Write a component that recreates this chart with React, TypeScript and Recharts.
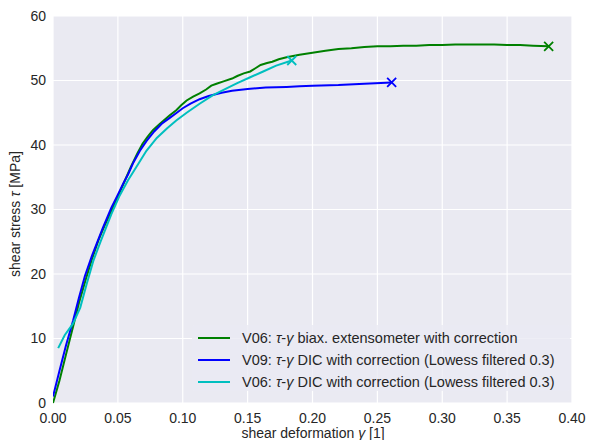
import React from 'react'
import { LineChart, Line, XAxis, YAxis, CartesianGrid } from 'recharts'

// gamma [1], tau [MPa]
const v06BiaxGamma = [0, 0.005, 0.01, 0.0154, 0.02, 0.025, 0.03, 0.035, 0.04, 0.045, 0.05, 0.055, 0.06, 0.065, 0.069, 0.073, 0.077, 0.082, 0.086, 0.09, 0.095, 0.099, 0.103, 0.108, 0.113, 0.118, 0.122, 0.126, 0.132, 0.138, 0.142, 0.147, 0.152, 0.156, 0.16, 0.165, 0.169, 0.174, 0.18, 0.185, 0.19, 0.2, 0.21, 0.22, 0.23, 0.24, 0.25, 0.26, 0.27, 0.28, 0.29, 0.3, 0.31, 0.32, 0.33, 0.34, 0.35, 0.36, 0.37, 0.382]
const v06BiaxTau = [0, 3.5, 7.5, 11.8, 15.5, 19, 22.3, 25.2, 27.6, 29.8, 32, 34.3, 36.6, 38.7, 40.2, 41.3, 42.3, 43.2, 43.9, 44.6, 45.4, 46.2, 46.9, 47.5, 48.0, 48.6, 49.2, 49.5, 49.9, 50.3, 50.7, 51.1, 51.4, 51.9, 52.4, 52.7, 52.9, 53.3, 53.6, 53.8, 54.0, 54.3, 54.6, 54.9, 55.0, 55.2, 55.3, 55.3, 55.4, 55.4, 55.5, 55.5, 55.6, 55.6, 55.6, 55.6, 55.5, 55.5, 55.4, 55.3]

const v09DicGamma = [0, 0.005, 0.01, 0.0154, 0.02, 0.0246, 0.03, 0.0385, 0.045, 0.05, 0.0538, 0.058, 0.062, 0.067, 0.072, 0.078, 0.0838, 0.09, 0.0954, 0.1, 0.106, 0.113, 0.12, 0.13, 0.138, 0.15, 0.164, 0.18, 0.19, 0.2, 0.22, 0.24, 0.261]
const v09DicTau = [1, 5, 8.9, 12.7, 16.3, 19.7, 22.8, 27.2, 30.3, 32.3, 33.9, 35.5, 37.3, 39.1, 40.6, 42.1, 43.3, 44.2, 45.0, 45.7, 46.4, 47.1, 47.6, 48.1, 48.4, 48.7, 48.9, 49.0, 49.1, 49.2, 49.3, 49.5, 49.7]

const v06DicGamma = [0.004, 0.009, 0.0154, 0.021, 0.026, 0.031, 0.037, 0.045, 0.051, 0.0577, 0.064, 0.072, 0.08, 0.088, 0.095, 0.103, 0.113, 0.123, 0.133, 0.142, 0.152, 0.162, 0.172, 0.184]
const v06DicTau = [8.5, 10.5, 12.3, 14.8, 18.5, 22, 25.2, 29.3, 32, 34.5, 36.5, 39.1, 41.1, 42.6, 43.8, 45.0, 46.4, 47.7, 48.7, 49.6, 50.5, 51.4, 52.3, 53.1]

const xTicks = [0, 0.05, 0.1, 0.15, 0.2, 0.25, 0.3, 0.35, 0.4]
const yTicks = [0, 10, 20, 30, 40, 50, 60]

const seriesNames = [
  'biax. extensometer with correction',
  'DIC with correction (Lowess filtered 0.3)',
  'DIC with correction (Lowess filtered 0.3)',
]
const seriesIds = ['V06', 'V09', 'V06']
const seriesColors = ['#008000', '#0000ff', '#00bfbf']

const toPoints = (xs: number[], ys: number[]) => xs.map((x, i) => ({ x, y: ys[i] }))

const seriesData = [
  toPoints(v06BiaxGamma, v06BiaxTau),
  toPoints(v09DicGamma, v09DicTau),
  toPoints(v06DicGamma, v06DicTau),
]

const font = '"Liberation Sans", Arial, sans-serif'
const textColor = '#262626'

// "x" marker only on the last point of each series
const endMarker = (color: string, lastIndex: number) => (props: any) => {
  const { cx, cy, index } = props
  if (index !== lastIndex || cx == null) return <g key={`d-${index}`} />
  const s = 4.5
  return (
    <path
      key={`d-${index}`}
      d={`M${cx - s},${cy - s}L${cx + s},${cy + s}M${cx - s},${cy + s}L${cx + s},${cy - s}`}
      stroke={color}
      strokeWidth={1.8}
      fill="none"
    />
  )
}

export default function App() {
  return (
    <div style={{ position: 'absolute', left: 0, top: 0, width: 589, height: 440, background: '#fff', fontFamily: font, overflow: 'hidden' }}>
      <LineChart width={589} height={440} margin={{ top: 16, right: 17, bottom: 0, left: 0 }}>
        <CartesianGrid fill="#eaeaf2" stroke="#ffffff" strokeWidth={1.2} />
        <XAxis
          type="number"
          dataKey="x"
          domain={[0, 0.4]}
          ticks={xTicks}
          tickFormatter={(v: number) => v.toFixed(2)}
          axisLine={false}
          tickLine={false}
          tickSize={0}
          tickMargin={10}
          height={37}
          tick={{ fill: textColor, fontSize: 14, fontFamily: font }}
          allowDataOverflow
        />
        <YAxis
          type="number"
          domain={[0, 60]}
          ticks={yTicks}
          axisLine={false}
          tickLine={false}
          tickSize={0}
          tickMargin={7}
          width={53}
          tick={{ fill: textColor, fontSize: 14, fontFamily: font }}
        />
        {seriesData.map((d, i) => (
          <Line
            key={i}
            data={d}
            dataKey="y"
            type="linear"
            stroke={seriesColors[i]}
            strokeWidth={2}
            dot={endMarker(seriesColors[i], d.length - 1)}
            activeDot={false}
            isAnimationActive={false}
          />
        ))}
        <text x={15} y={214} transform="rotate(-90 15 214)" textAnchor="middle" dominantBaseline="central" fill={textColor} fontSize={14} fontFamily={font}>
          shear stress <tspan fontStyle="italic">τ</tspan> [MPa]
        </text>
        <text x={313} y={438} textAnchor="middle" fill={textColor} fontSize={14} fontFamily={font}>
          shear deformation <tspan fontStyle="italic">γ</tspan> [1]
        </text>
      </LineChart>
      <div
        style={{
          position: 'absolute',
          left: 192,
          top: 325,
          width: 378,
          height: 66,
          background: 'rgba(234,234,242,0.8)',
          borderRadius: 3,
          boxSizing: 'border-box',
          paddingTop: 2,
        }}
      >
        {seriesNames.map((name, i) => (
          <div key={i} style={{ display: 'flex', alignItems: 'center', height: 22, fontSize: 14.5, color: textColor, whiteSpace: 'nowrap' }}>
            <div style={{ width: 32, height: 2, background: seriesColors[i], marginLeft: 6, marginRight: 12 }} />
            <span>
              {seriesIds[i]}: <i>τ</i>-<i>γ</i> {name}
            </span>
          </div>
        ))}
      </div>
    </div>
  )
}
